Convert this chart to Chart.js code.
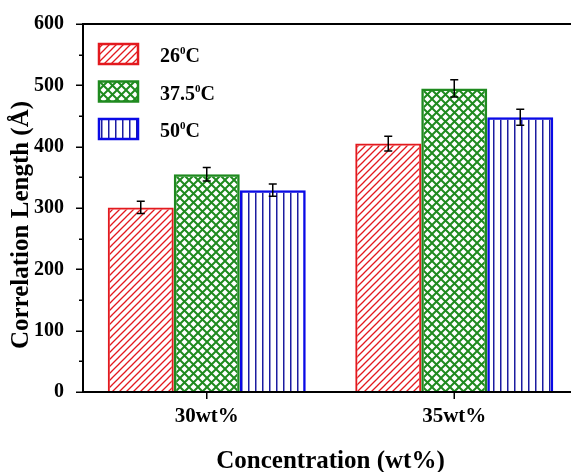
<!DOCTYPE html>
<html>
<head>
<meta charset="utf-8">
<script src="https://cdn.jsdelivr.net/npm/chart.js@4.4.0/dist/chart.umd.min.js"></script>
<style>
  html, body { margin: 0; padding: 0; background: #fff; overflow: hidden; }
  #wrap { width: 571px; height: 472px; overflow: hidden; }
</style>
</head>
<body>
<div id="wrap"><canvas id="chart" width="620" height="472"></canvas></div>
<script>
// data
const categories = ['30wt%', '35wt%'];
const tempLabels = ['26', '37.5', '50'];
const len26 = [301, 405];
const len375 = [355, 495];
const len50 = [329, 448];
const err26 = [10, 12];
const err375 = [11, 14];
const err50 = [10, 13];
const yTicks = [0, 100, 200, 300, 400, 500, 600];
const yTitle = 'Correlation Length (Å)';
const xTitle = 'Concentration (wt%)';

const FONT = '"Liberation Serif", "Times New Roman", serif';

// hatch patterns
function makePattern(kind, color) {
    const c = document.createElement('canvas');
    const ctx = c.getContext('2d');
    if (kind === 'diag') {
        c.width = 7; c.height = 7;
        ctx.strokeStyle = color;
        ctx.lineWidth = 1.3;
        ctx.beginPath();
        ctx.moveTo(-1, 8); ctx.lineTo(8, -1);
        ctx.moveTo(-4, 4); ctx.lineTo(4, -4);
        ctx.moveTo(3, 11); ctx.lineTo(11, 3);
        ctx.stroke();
    } else if (kind === 'cross') {
        c.width = 9; c.height = 9;
        ctx.strokeStyle = color;
        ctx.lineWidth = 2;
        ctx.beginPath();
        ctx.moveTo(-1, 10); ctx.lineTo(10, -1);
        ctx.moveTo(-1, -1); ctx.lineTo(10, 10);
        ctx.stroke();
    } else {
        c.width = 7; c.height = 7;
        ctx.fillStyle = color;
        ctx.fillRect(3, 0, 1.5, 7);
    }
    return ctx.createPattern(c, 'repeat');
}

const styles = [
    { border: '#e3191e', fill: makePattern('diag', '#e3191e'), width: 2 },
    { border: '#1f8a1f', fill: makePattern('cross', '#1f8a1f'), width: 2.5 },
    { border: '#0a0ae6', fill: makePattern('vert', '#1c1ca0'), width: 2.5 }
];
const seriesValues = [len26, len375, len50];
const seriesErrors = [err26, err375, err50];

const decorations = {
    id: 'decorations',
    afterDatasetsDraw(chart) {
        const ctx = chart.ctx;
        const y = chart.scales.y;
        ctx.save();
        ctx.strokeStyle = '#000';
        ctx.lineWidth = 1.5;
        seriesValues.forEach((vals, i) => {
            const meta = chart.getDatasetMeta(i);
            meta.data.forEach((bar, j) => {
                const top = y.getPixelForValue(vals[j] + seriesErrors[i][j]);
                const bot = y.getPixelForValue(vals[j] - seriesErrors[i][j]);
                ctx.beginPath();
                ctx.moveTo(bar.x, top); ctx.lineTo(bar.x, bot);
                ctx.moveTo(bar.x - 4, top); ctx.lineTo(bar.x + 4, top);
                ctx.moveTo(bar.x - 4, bot); ctx.lineTo(bar.x + 4, bot);
                ctx.stroke();
            });
        });
        ctx.restore();
    },
    afterDraw(chart) {
        const ctx = chart.ctx;
        const a = chart.chartArea;
        const x = chart.scales.x;
        const y = chart.scales.y;
        ctx.save();
        ctx.strokeStyle = '#000';
        ctx.lineWidth = 2;
        ctx.beginPath();
        ctx.moveTo(a.left, a.top); ctx.lineTo(a.right, a.top);
        ctx.moveTo(a.left - 1, a.bottom); ctx.lineTo(a.right, a.bottom);
        ctx.moveTo(a.left, a.bottom); ctx.lineTo(a.left, a.top - 1);
        ctx.stroke();

        // y ticks, major and minor
        ctx.lineWidth = 1.5;
        ctx.beginPath();
        for (let v = 0; v <= 600; v += 50) {
            const py = Math.round(y.getPixelForValue(v)) + 0.25;
            const len = v % 100 === 0 ? 7 : 4;
            ctx.moveTo(a.left - len, py); ctx.lineTo(a.left, py);
        }
        // x ticks at category centres
        categories.forEach((c, i) => {
            const px = x.getPixelForValue(i);
            ctx.moveTo(px, a.bottom); ctx.lineTo(px, a.bottom + 7);
        });
        ctx.stroke();

        // legend
        ctx.textBaseline = 'alphabetic';
        tempLabels.forEach((t, i) => {
            const top = 44 + i * 37.5;
            const s = styles[i];
            ctx.fillStyle = s.fill;
            ctx.fillRect(99, top, 39, 20);
            ctx.strokeStyle = s.border;
            ctx.lineWidth = 2.5;
            ctx.strokeRect(99, top, 39, 20);
            const base = top + 18;
            ctx.fillStyle = '#000';
            ctx.font = 'bold 20px ' + FONT;
            ctx.fillText(t, 160, base);
            let px = 160 + ctx.measureText(t).width;
            ctx.font = 'bold 11px ' + FONT;
            ctx.fillText('0', px, base - 8);
            px += ctx.measureText('0').width;
            ctx.font = 'bold 20px ' + FONT;
            ctx.fillText('C', px, base);
        });

        // axis titles
        ctx.font = 'bold 25px ' + FONT;
        ctx.textAlign = 'center';
        ctx.textBaseline = 'middle';
        ctx.fillText(xTitle, (a.left + a.right) / 2, 462);
        ctx.translate(22, 225);
        ctx.rotate(-Math.PI / 2);
        ctx.fillText(yTitle, 0, 0);
        ctx.restore();
    }
};

new Chart(document.getElementById('chart'), {
    type: 'bar',
    data: {
        labels: categories,
        datasets: tempLabels.map((t, i) => ({
            label: t + '°C',
            data: seriesValues[i],
            backgroundColor: styles[i].fill,
            borderColor: styles[i].border,
            borderWidth: styles[i].width,
            categoryPercentage: 0.8,
            barPercentage: 1
        }))
    },
    options: {
        responsive: false,
        animation: false,
        devicePixelRatio: 1,
        layout: { padding: { top: 24, right: 42, left: 0, bottom: 0 } },
        plugins: { legend: { display: false }, tooltip: { enabled: false } },
        scales: {
            x: {
                grid: { display: false },
                border: { display: false },
                ticks: { color: '#000', padding: 4, font: { family: FONT, size: 21, weight: 'bold' } },
                afterFit: s => { s.height = 80; }
            },
            y: {
                min: 0,
                max: 600,
                grid: { display: false },
                border: { display: false },
                afterBuildTicks: s => { s.ticks = yTicks.map(v => ({ value: v })); },
                ticks: { color: '#000', padding: 11, font: { family: FONT, size: 20, weight: 'bold' } },
                afterFit: s => { s.width = 83; }
            }
        }
    },
    plugins: [decorations]
});
</script>
</body>
</html>
